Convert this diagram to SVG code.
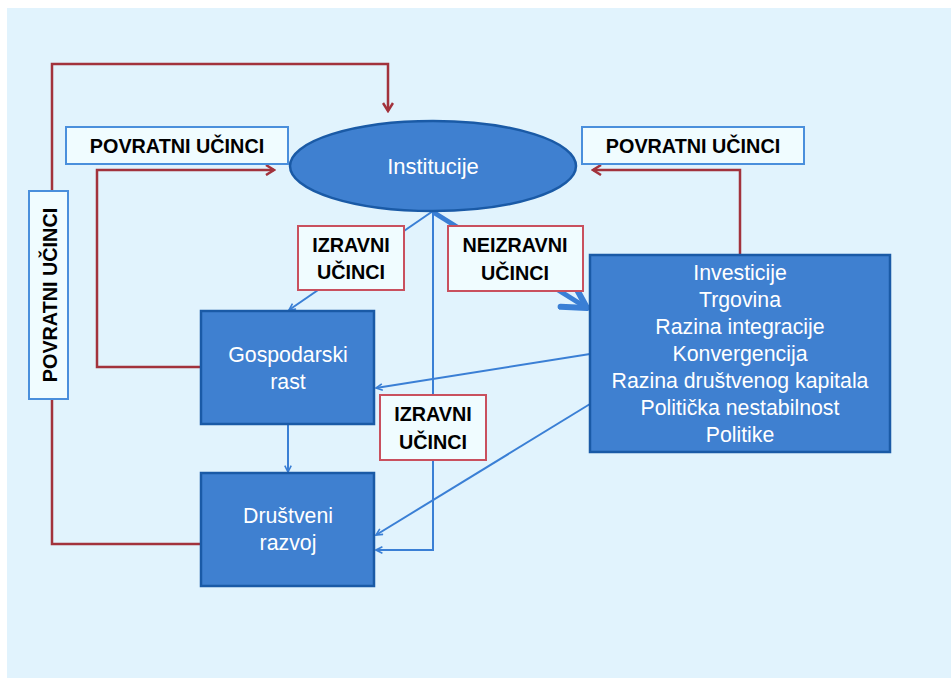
<svg xmlns="http://www.w3.org/2000/svg" width="951" height="679" viewBox="0 0 951 679">
<style>
.node{fill:#3f80d0;stroke:#1a5aa6;stroke-width:2.5}
.nt{font-family:"Liberation Sans",Arial,sans-serif;font-size:21.3px;fill:#ffffff;text-anchor:middle}
.lb{fill:#f0fcff;stroke-width:2}
.lbb{stroke:#4a8fdc}
.lbr{stroke:#c9505e}
.lt{font-family:"Liberation Sans",Arial,sans-serif;font-size:19.8px;font-weight:bold;fill:#000;text-anchor:middle}
.red{fill:none;stroke:#a2323c;stroke-width:2.5}
.blue{fill:none;stroke:#3a7fd5;stroke-width:2}
</style>
<defs>
<marker id="ab" viewBox="0 0 10 10" refX="9" refY="5" markerWidth="8" markerHeight="8" markerUnits="userSpaceOnUse" orient="auto"><path d="M1,1 L9,5 L1,9" fill="none" stroke="#3a7fd5" stroke-width="2"/></marker>
<marker id="ar" viewBox="0 0 12 12" refX="10" refY="6" markerWidth="12" markerHeight="12" markerUnits="userSpaceOnUse" orient="auto"><path d="M2,1 L10,6 L2,11" fill="none" stroke="#a2323c" stroke-width="2.5"/></marker>
<marker id="at" viewBox="0 0 30 32" refX="27" refY="16" markerWidth="30" markerHeight="32" markerUnits="userSpaceOnUse" orient="auto"><path d="M4,3 L27,16 L4,29" fill="none" stroke="#3a7fd5" stroke-width="6" stroke-linecap="round" stroke-linejoin="round"/></marker>
</defs>
<rect x="7" y="8" width="944" height="670" fill="#e1f3fd"/>
<g id="connectors">
<polyline class="red" points="52,191 52,64 388,64 388,111" marker-end="url(#ar)"/>
<polyline class="red" points="201,367 97,367 97,170 274,170" marker-end="url(#ar)"/>
<polyline class="red" points="201,544 52,544 52,399"/>
<polyline class="red" points="740,254 740,170 593,170" marker-end="url(#ar)"/>
<line class="blue" x1="433" y1="211" x2="289" y2="310" marker-end="url(#ab)"/>
<polyline class="blue" points="433,211 433,550 376,550" marker-end="url(#ab)"/>
<line x1="433" y1="212" x2="587" y2="308" stroke="#3a7fd5" stroke-width="5" marker-end="url(#at)"/>
<line class="blue" x1="590" y1="354" x2="376" y2="388" marker-end="url(#ab)"/>
<line class="blue" x1="590" y1="404" x2="376" y2="535" marker-end="url(#ab)"/>
<line class="blue" x1="288" y1="425" x2="288" y2="472" marker-end="url(#ab)"/>
</g>
<g id="institucije">
<ellipse class="node" cx="433" cy="166" rx="143" ry="45"/>
<text class="nt" x="433" y="174" style="font-size:22px">Institucije</text>
</g>
<g id="gospodarski">
<rect class="node" x="201" y="311" width="173" height="113"/>
<text class="nt" x="288" y="362">Gospodarski</text>
<text class="nt" x="288" y="389">rast</text>
</g>
<g id="drustveni">
<rect class="node" x="201" y="473" width="173" height="113"/>
<text class="nt" x="288" y="523">Društveni</text>
<text class="nt" x="288" y="550">razvoj</text>
</g>
<g id="investicije">
<rect class="node" x="590" y="255" width="300" height="197"/>
<text class="nt" x="740" y="280">Investicije</text>
<text class="nt" x="740" y="307">Trgovina</text>
<text class="nt" x="740" y="334">Razina integracije</text>
<text class="nt" x="740" y="361">Konvergencija</text>
<text class="nt" x="740" y="388">Razina društvenog kapitala</text>
<text class="nt" x="740" y="415">Politička nestabilnost</text>
<text class="nt" x="740" y="442">Politike</text>
</g>
<g id="povratni-left">
<rect class="lb lbb" x="66" y="127" width="222" height="37"/>
<text class="lt" x="177" y="153">POVRATNI UČINCI</text>
</g>
<g id="povratni-right">
<rect class="lb lbb" x="582" y="127" width="222" height="37"/>
<text class="lt" x="693" y="153">POVRATNI UČINCI</text>
</g>
<g id="povratni-vertical">
<rect class="lb lbb" x="29" y="191" width="39" height="208"/>
<text class="lt" transform="translate(57,295) rotate(-90)" x="0" y="0">POVRATNI UČINCI</text>
</g>
<g id="izravni-1">
<rect class="lb lbr" x="298" y="226" width="106" height="64"/>
<text class="lt" x="351" y="252">IZRAVNI</text>
<text class="lt" x="351" y="279">UČINCI</text>
</g>
<g id="neizravni">
<rect class="lb lbr" x="448" y="226" width="135" height="65"/>
<text class="lt" x="515" y="252">NEIZRAVNI</text>
<text class="lt" x="515" y="280">UČINCI</text>
</g>
<g id="izravni-2">
<rect class="lb lbr" x="380" y="395" width="106" height="65"/>
<text class="lt" x="433" y="421">IZRAVNI</text>
<text class="lt" x="433" y="449">UČINCI</text>
</g>
</svg>
